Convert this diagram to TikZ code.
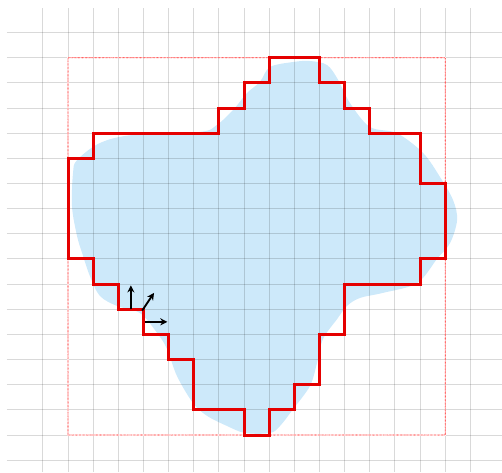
\documentclass[tikz,border=0pt]{standalone}
\usetikzlibrary{arrows.meta}
\definecolor{blobblue}{RGB}{205,233,250}
\tikzset{
  gridline/.style={line width=1.1pt, black, opacity=0.15},
  outline/.style={line width=3.4pt, red!90!black, line join=miter},
  boxunder/.style={line width=1.2pt, white},
  boxline/.style={line width=1.2pt, red!75, line cap=round, dash pattern=on 0pt off 1.6pt},
  normal/.style={line width=2.1pt, black, -{Stealth[length=8pt,width=8pt]}}
}
\begin{document}
\begin{tikzpicture}
\useasboundingbox (-2.704,-1.471) rectangle (17.256,17.296);
% blob
\fill[blobblue] plot[smooth cycle, tension=0.55] coordinates {
(0.36,10.93) (1.27,11.61) (2.58,11.93) (5.25,12.05) (5.92,12.33) (6.56,12.92)
(7.12,13.6) (7.63,14.04) (8.03,14.63) (8.95,14.83) (9.62,14.87) (10.3,14.71)
(10.74,14.12) (11.21,13.2) (12.0,12.25) (13.08,12.0) (14.12,11.21) (14.79,10.26)
(15.31,9.34) (15.47,8.55) (15.19,7.63) (14.67,7.0) (13.88,6.04) (12.52,5.65)
(11.61,5.45) (11.09,5.13) (10.7,4.61) (10.14,3.82) (9.9,2.86) (9.62,1.95)
(8.95,1.03) (8.43,0.36) (8.03,0.08) (7.04,0.08) (6.32,0.36) (5.53,0.76)
(4.97,1.27) (4.33,2.35) (3.94,3.42) (3.54,4.06) (2.86,4.85) (1.95,5.13)
(1.27,5.53) (0.87,6.32) (0.56,7.24) (0.36,7.91) (0.16,9.07) (0.2,10.42)};
% grid
\foreach \x in {-1,...,16} \draw[gridline] (\x,-1.471) -- (\x,16.98);
\foreach \y in {-1,...,16} \draw[gridline] (-2.43,\y) -- (17.256,\y);
% dotted bounding square
\draw[boxunder] (0,0) rectangle (15,15);
\draw[boxline] (0,0) rectangle (15,15);
% staircase outline
\draw[outline] (0,7) -- (0,11) -- (1,11) -- (1,12) -- (6,12) -- (6,13) -- (7,13) -- (7,14)
 -- (8,14) -- (8,15) -- (10,15) -- (10,14) -- (11,14) -- (11,13) -- (12,13) -- (12,12)
 -- (14,12) -- (14,10) -- (15,10) -- (15,7) -- (14,7) -- (14,6) -- (11,6) -- (11,4)
 -- (10,4) -- (10,2) -- (9,2) -- (9,1) -- (8,1) -- (8,0) -- (7,0) -- (7,1) -- (5,1)
 -- (5,3) -- (4,3) -- (4,4) -- (3,4) -- (3,5) -- (2,5) -- (2,6) -- (1,6) -- (1,7) -- cycle;
% normals
\coordinate (a0) at (2.5,5);   \coordinate (a1) at (2.5,5.95);
\coordinate (b0) at (2.95,4.95); \coordinate (b1) at (3.42,5.65);
\coordinate (c0) at (3.05,4.5); \coordinate (c1) at (3.95,4.5);
\draw[normal] (a0) -- (a1);
\draw[normal] (b0) -- (b1);
\draw[normal] (c0) -- (c1);
\end{tikzpicture}
\end{document}
